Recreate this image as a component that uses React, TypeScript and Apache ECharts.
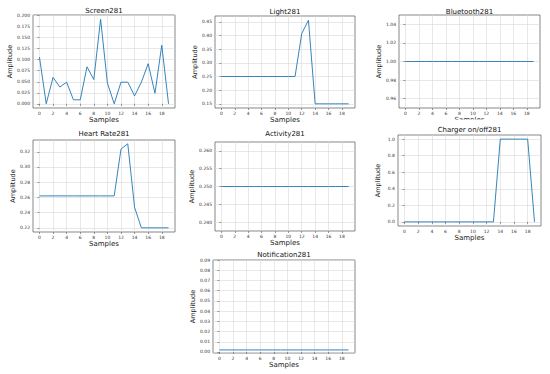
import React, { useEffect, useRef } from "react";
import * as echarts from "echarts";

// ---- data ----
const samples = Array.from({ length: 20 }, (_, i) => i);
const xTicks = [0, 2, 4, 6, 8, 10, 12, 14, 16, 18];

const titles = ["Screen281", "Light281", "Bluetooth281", "Heart Rate281", "Activity281", "Charger on/off281", "Notification281"];

const screenValues = [0.106, 0, 0.060, 0.038, 0.049, 0.009, 0.009, 0.084, 0.055, 0.192, 0.047, 0, 0.049, 0.049, 0.018, 0.049, 0.091, 0.024, 0.133, 0];
const lightValues = [0.25, 0.25, 0.25, 0.25, 0.25, 0.25, 0.25, 0.25, 0.25, 0.25, 0.25, 0.25, 0.407, 0.456, 0.15, 0.15, 0.15, 0.15, 0.15, 0.15];
const bluetoothValues = [1, 1, 1, 1, 1, 1, 1, 1, 1, 1, 1, 1, 1, 1, 1, 1, 1, 1, 1, 1];
const heartValues = [0.262, 0.262, 0.262, 0.262, 0.262, 0.262, 0.262, 0.262, 0.262, 0.262, 0.262, 0.262, 0.3235, 0.3305, 0.247, 0.22, 0.22, 0.22, 0.22, 0.22];
const activityValues = [0.25, 0.25, 0.25, 0.25, 0.25, 0.25, 0.25, 0.25, 0.25, 0.25, 0.25, 0.25, 0.25, 0.25, 0.25, 0.25, 0.25, 0.25, 0.25, 0.25];
const chargerValues = [0, 0, 0, 0, 0, 0, 0, 0, 0, 0, 0, 0, 0, 0, 1, 1, 1, 1, 1, 0];
const notificationValues = [0.002, 0.002, 0.002, 0.002, 0.002, 0.002, 0.002, 0.002, 0.002, 0.002, 0.002, 0.002, 0.002, 0.002, 0.002, 0.002, 0.002, 0.002, 0.002, 0.002];

const screenTicks = [0, 0.025, 0.05, 0.075, 0.1, 0.125, 0.15, 0.175, 0.2];
const lightTicks = [0.15, 0.2, 0.25, 0.3, 0.35, 0.4, 0.45];
const bluetoothTicks = [0.96, 0.98, 1.0, 1.02, 1.04];
const heartTicks = [0.22, 0.24, 0.26, 0.28, 0.3, 0.32];
const activityTicks = [0.24, 0.245, 0.25, 0.255, 0.26];
const chargerTicks = [0, 0.2, 0.4, 0.6, 0.8, 1.0];
const notificationTicks = [0, 0.01, 0.02, 0.03, 0.04, 0.05, 0.06, 0.07, 0.08, 0.09];

const seriesValues = [screenValues, lightValues, bluetoothValues, heartValues, activityValues, chargerValues, notificationValues];
const yTicks = [screenTicks, lightTicks, bluetoothTicks, heartTicks, activityTicks, chargerTicks, notificationTicks];
const yDecimals = [3, 2, 2, 2, 3, 1, 2];
const yRanges: [number, number][] = [
  [-0.0096, 0.2016],
  [0.1347, 0.4713],
  [0.95, 1.05],
  [0.2145, 0.3355],
  [0.2375, 0.2625],
  [-0.05, 1.05],
  [-0.001, 0.09],
];

// ---- layout ----
const grids = [
  { left: 33, top: 15, width: 142, height: 93, titleY: 11 },
  { left: 215, top: 16, width: 140, height: 92, titleY: 12 },
  { left: 399, top: 15, width: 141, height: 93, titleY: 12 },
  { left: 33, top: 140, width: 142, height: 92, titleY: 134 },
  { left: 215, top: 142, width: 140, height: 89, titleY: 134 },
  { left: 398, top: 135, width: 143, height: 91, titleY: 130 },
  { left: 213, top: 260, width: 142, height: 93, titleY: 255 },
];

const FONT = "DejaVu Sans";

export default function App() {
  const ref = useRef<HTMLDivElement>(null);
  useEffect(() => {
    if (!ref.current) return;
    const chart = echarts.init(ref.current, undefined, { renderer: "svg" });
    const option: any = {
      animation: false,
      backgroundColor: "#ffffff",
      textStyle: { fontFamily: FONT },
      grid: grids.map((g) => ({
        left: g.left,
        top: g.top,
        width: g.width,
        height: g.height,
        show: true,
        borderColor: "#555555",
        borderWidth: 0.7,
        backgroundColor: "transparent",
        containLabel: false,
      })),
      xAxis: grids.map((g, i) => ({
        type: "value",
        gridIndex: i,
        min: -0.95,
        max: 19.95,
        name: "Samples",
        nameLocation: "middle",
        nameGap: 7.5,
        nameTextStyle: { fontFamily: FONT, fontSize: 7, color: "#222" },
        axisLine: { show: false },
        axisTick: { show: true, length: 2, lineStyle: { color: "#555", width: 0.6 }, customValues: xTicks },
        axisLabel: { show: true, fontSize: 4.5, color: "#333", margin: 3, fontFamily: FONT, customValues: xTicks, formatter: (v: number) => String(v) },
        splitLine: { show: true, lineStyle: { color: "#d8d8d8", width: 0.6 } },
      })),
      yAxis: grids.map((g, i) => ({
        type: "value",
        gridIndex: i,
        min: yRanges[i][0],
        max: yRanges[i][1],
        name: "Amplitude",
        nameLocation: "middle",
        nameGap: 16.5,
        nameTextStyle: { fontFamily: FONT, fontSize: 6.5, color: "#222" },
        axisLine: { show: false },
        axisTick: { show: true, length: 2, lineStyle: { color: "#555", width: 0.6 }, customValues: yTicks[i] },
        axisLabel: { show: true, fontSize: 4.5, color: "#333", margin: 3, fontFamily: FONT, customValues: yTicks[i], formatter: (v: number) => v.toFixed(yDecimals[i]) },
        splitLine: { show: true, lineStyle: { color: "#d8d8d8", width: 0.6 } },
      })),
      series: seriesValues.map((vals, i) => ({
        type: "line",
        xAxisIndex: i,
        yAxisIndex: i,
        data: vals.map((v, k) => [samples[k], v]),
        showSymbol: false,
        symbol: "none",
        lineStyle: { color: "#1f77b4", width: 0.9 },
        itemStyle: { color: "#1f77b4" },
        z: 3,
      })),
      graphic: [
        ...grids.map((g, i) => ({
          type: "text",
          x: g.left + g.width / 2,
          y: g.titleY,
          z: 10,
          style: {
            text: titles[i],
            fontFamily: FONT,
            fontSize: 7,
            fill: "#111",
            align: "center",
            verticalAlign: "middle",
          },
        })),
        {
          type: "rect",
          shape: { x: 430, y: 119.5, width: 80, height: 5 },
          style: { fill: "#ffffff" },
          z: 9,
        },
      ],
    };
    chart.setOption(option);
    return () => chart.dispose();
  }, []);
  return <div ref={ref} style={{ position: "absolute", left: 0, top: 0, width: 550, height: 374 }} />;
}
